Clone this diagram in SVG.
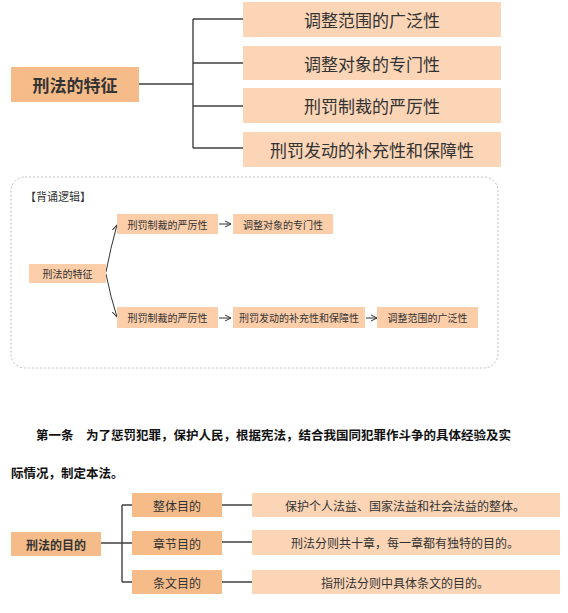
<svg xmlns="http://www.w3.org/2000/svg" width="568" height="613" viewBox="0 0 568 613">
<style>
text{font-family:"Noto Sans CJK SC","Noto Sans",sans-serif;fill:#333;dominant-baseline:central;text-anchor:middle}
.dark{fill:#F5BC89}
.light{fill:#FBD5B6}
.mid{fill:#FBCDA9}
.b17{font-size:17px;font-weight:bold}
.n17{font-size:17px}
.s10{font-size:10px}
.b12{font-size:12px;font-weight:bold}
.n12{font-size:12px}
.tree{stroke:#404040;stroke-width:1.4;fill:none}
.arr{stroke:#333;stroke-width:1;fill:none;marker-end:url(#open)}
</style>
<defs>
<marker id="open" viewBox="0 0 8 8" refX="7" refY="4" markerWidth="8" markerHeight="8" markerUnits="userSpaceOnUse" orient="auto">
<path d="M1,1 L7,4 L1,7" fill="none" stroke="#333" stroke-width="1"/>
</marker>
</defs>
<rect width="568" height="613" fill="#fff"/>

<g id="connectors">
<path class="tree" d="M139,84 H193 M193,19 V148 M193,19 H243 M193,63 H243 M193,106 H243 M193,148 H243"/>
<path class="arr" d="M106,272 Q110.5,248 117,225"/>
<path class="arr" d="M106,274 Q110.5,297 117,317"/>
<path class="arr" d="M219,224 H231"/>
<path class="arr" d="M219,318 H231"/>
<path class="arr" d="M366,318 H377"/>
<path class="tree" d="M101,543 H122 M122,505 V582 M122,505 H132 M122,543 H132 M122,582 H132 M222,505 H252 M222,542 H252 M222,582 H252"/>
</g>

<g id="n-main-feature"><rect class="dark" x="11" y="67" width="128" height="35"/><text class="b17" x="75" y="84.5">刑法的特征</text></g>
<g id="n-f1"><rect class="light" x="243" y="2" width="258" height="35"/><text class="n17" x="372" y="19.5">调整范围的广泛性</text></g>
<g id="n-f2"><rect class="light" x="243" y="46" width="258" height="34"/><text class="n17" x="372" y="63">调整对象的专门性</text></g>
<g id="n-f3"><rect class="light" x="243" y="88" width="258" height="35"/><text class="n17" x="372" y="105.5">刑罚制裁的严厉性</text></g>
<g id="n-f4"><rect class="light" x="243" y="132" width="258" height="35"/><text class="n17" x="372" y="149.5">刑罚发动的补充性和保障性</text></g>

<g id="memo">
<rect x="11" y="177" width="487" height="191" rx="14" fill="none" stroke="#aaa" stroke-width="0.8" stroke-dasharray="2 2"/>
<text x="25" y="196" style="font-size:11px;text-anchor:start">【背诵逻辑】</text>
</g>
<g id="m-main"><rect class="mid" x="29" y="264" width="77" height="19"/><text class="s10" x="67.5" y="273.5">刑法的特征</text></g>
<g id="m-a1"><rect class="mid" x="117" y="214" width="101" height="20"/><text class="s10" x="167.5" y="224">刑罚制裁的严厉性</text></g>
<g id="m-a2"><rect class="mid" x="233" y="214" width="100" height="20"/><text class="s10" x="283" y="224">调整对象的专门性</text></g>
<g id="m-b1"><rect class="mid" x="117" y="307" width="101" height="21"/><text class="s10" x="167.5" y="317.5">刑罚制裁的严厉性</text></g>
<g id="m-b2"><rect class="mid" x="233" y="307" width="132" height="21"/><text class="s10" x="299" y="317.5">刑罚发动的补充性和保障性</text></g>
<g id="m-b3"><rect class="mid" x="377" y="307" width="101" height="21"/><text class="s10" x="427.5" y="317.5">调整范围的广泛性</text></g>

<g id="article">
<text x="36" y="434" style="font-size:12.5px;font-weight:bold;text-anchor:start;fill:#111">第一条　为了惩罚犯罪，保护人民，根据宪法，结合我国同犯罪作斗争的具体经验及实</text>
<text x="11" y="472" style="font-size:12.5px;font-weight:bold;text-anchor:start;fill:#111">际情况，制定本法。</text>
</g>

<g id="n-purpose"><rect class="dark" x="11" y="532" width="90" height="24"/><text class="b12" x="56" y="544">刑法的目的</text></g>
<g id="n-p1"><rect class="dark" x="132" y="493" width="90" height="24"/><text class="n12" x="177" y="505">整体目的</text></g>
<g id="n-p2"><rect class="dark" x="132" y="531" width="90" height="24"/><text class="n12" x="177" y="543">章节目的</text></g>
<g id="n-p3"><rect class="dark" x="132" y="570" width="90" height="24"/><text class="n12" x="177" y="582">条文目的</text></g>
<g id="n-d1"><rect class="light" x="252" y="493" width="308" height="24"/><text class="n12" x="405" y="505">保护个人法益、国家法益和社会法益的整体。</text></g>
<g id="n-d2"><rect class="light" x="252" y="530" width="308" height="25"/><text class="n12" x="405" y="542.5">刑法分则共十章，每一章都有独特的目的。</text></g>
<g id="n-d3"><rect class="light" x="252" y="570" width="308" height="24"/><text class="n12" x="405" y="582">指刑法分则中具体条文的目的。</text></g>
</svg>
